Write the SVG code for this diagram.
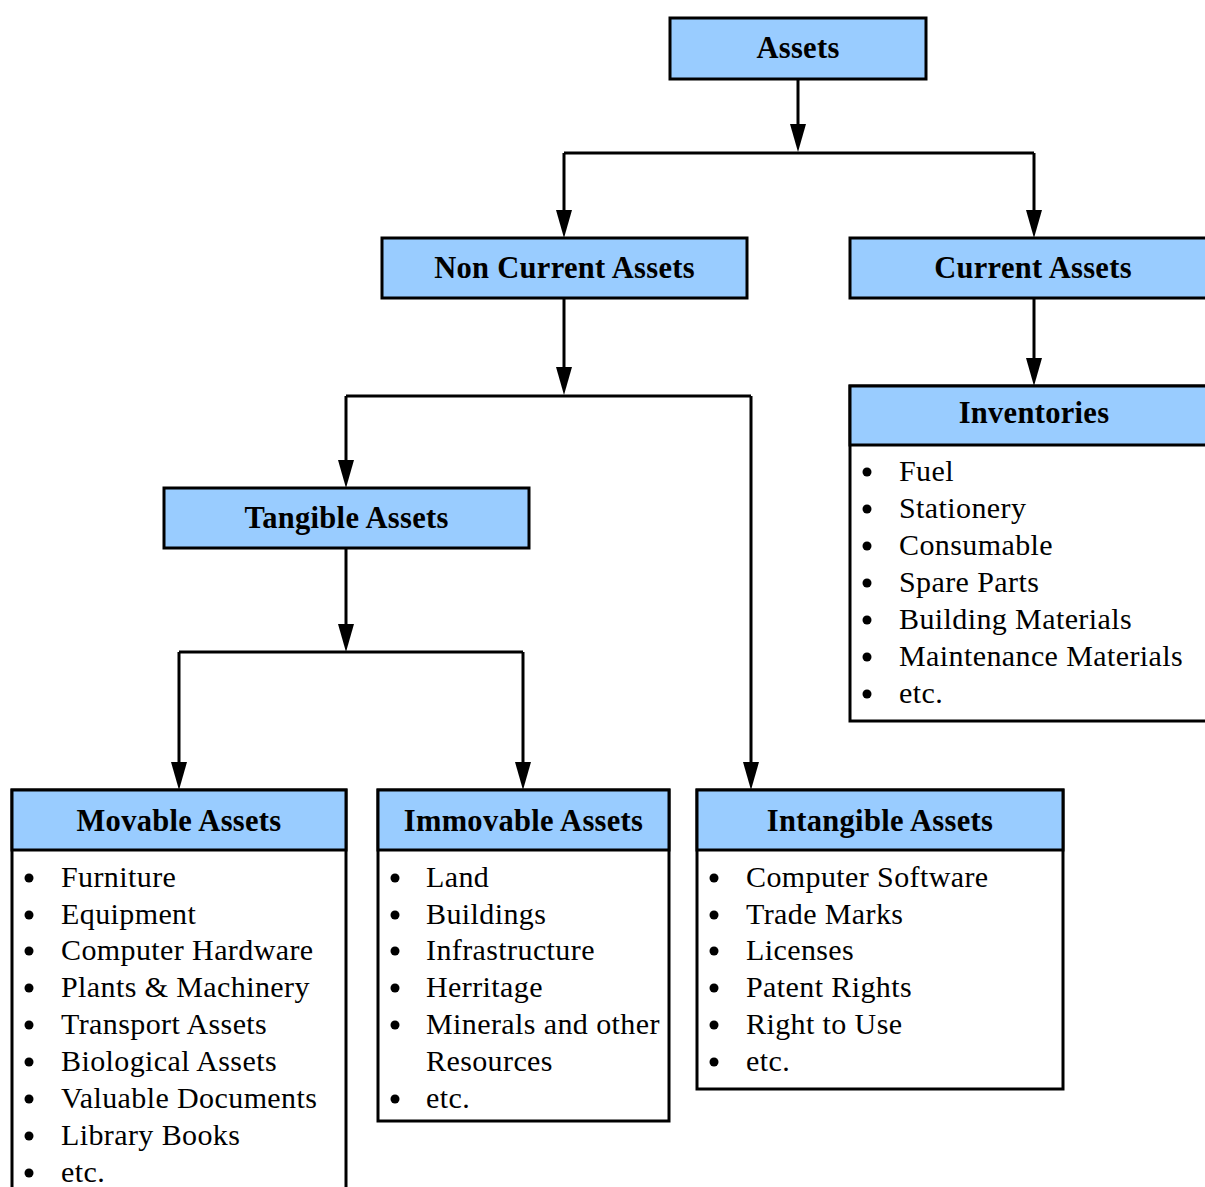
<svg xmlns="http://www.w3.org/2000/svg" width="1205" height="1187" viewBox="0 0 1205 1187">
<style>
.hd{fill:#99CCFF;stroke:#000;stroke-width:3}
.bd{fill:#fff;stroke:#000;stroke-width:3}
.ht{font-family:"Liberation Serif","Times New Roman",serif;font-weight:bold;font-size:30.5px;letter-spacing:0.3px;text-anchor:middle;fill:#000}
.it{font-family:"Liberation Serif","Times New Roman",serif;font-size:30px;letter-spacing:0.4px;fill:#000}
.bl{fill:#000}
.cn{fill:none;stroke:#000;stroke-width:3}
.ah{fill:#000}
</style>
<rect width="1205" height="1187" fill="#fff"/>
<g id="connectors">
<path class="cn" d="M798,79 V124"/>
<path class="ah" d="M790,124 H806 L798,152 Z"/>
<path class="cn" d="M564,153 H1034"/>
<path class="cn" d="M564,153 V210"/>
<path class="ah" d="M556,210 H572 L564,238 Z"/>
<path class="cn" d="M1034,153 V210"/>
<path class="ah" d="M1026,210 H1042 L1034,238 Z"/>
<path class="cn" d="M1034,298 V358"/>
<path class="ah" d="M1026,358 H1042 L1034,386 Z"/>
<path class="cn" d="M564,298 V367"/>
<path class="ah" d="M556,367 H572 L564,395 Z"/>
<path class="cn" d="M346,396 H751"/>
<path class="cn" d="M346,396 V460"/>
<path class="ah" d="M338,460 H354 L346,488 Z"/>
<path class="cn" d="M751,396 V762"/>
<path class="ah" d="M743,762 H759 L751,790 Z"/>
<path class="cn" d="M346,548 V624"/>
<path class="ah" d="M338,624 H354 L346,652 Z"/>
<path class="cn" d="M179,652 H523"/>
<path class="cn" d="M179,652 V762"/>
<path class="ah" d="M171,762 H187 L179,790 Z"/>
<path class="cn" d="M523,652 V762"/>
<path class="ah" d="M515,762 H531 L523,790 Z"/>
</g>
<g id="assets">
<rect class="hd" x="670" y="18" width="256" height="61"/>
<text class="ht" x="798" y="58">Assets</text>
</g>
<g id="non-current-assets">
<rect class="hd" x="382" y="238" width="365" height="60"/>
<text class="ht" x="564.5" y="278">Non Current Assets</text>
</g>
<g id="current-assets">
<rect class="hd" x="850" y="238" width="366" height="60"/>
<text class="ht" x="1033" y="278">Current Assets</text>
</g>
<g id="inventories">
<rect class="bd" x="850" y="386" width="366" height="335"/>
<rect class="hd" x="850" y="386" width="366" height="59"/>
<text class="ht" x="1034" y="423">Inventories</text>
<g class="bl">
<circle cx="867" cy="472" r="4.5"/><circle cx="867" cy="509" r="4.5"/><circle cx="867" cy="546" r="4.5"/><circle cx="867" cy="583" r="4.5"/><circle cx="867" cy="620" r="4.5"/><circle cx="867" cy="657" r="4.5"/><circle cx="867" cy="694" r="4.5"/>
</g>
<text class="it" x="899" y="481">Fuel</text>
<text class="it" x="899" y="518">Stationery</text>
<text class="it" x="899" y="555">Consumable</text>
<text class="it" x="899" y="592">Spare Parts</text>
<text class="it" x="899" y="629">Building Materials</text>
<text class="it" x="899" y="666">Maintenance Materials</text>
<text class="it" x="899" y="703">etc.</text>
</g>
<g id="tangible-assets">
<rect class="hd" x="164" y="488" width="365" height="60"/>
<text class="ht" x="346.5" y="528">Tangible Assets</text>
</g>
<g id="movable-assets">
<rect class="bd" x="12" y="790" width="334" height="420"/>
<rect class="hd" x="12" y="790" width="334" height="60"/>
<text class="ht" x="179" y="831">Movable Assets</text>
<g class="bl">
<circle cx="29" cy="878" r="4.5"/><circle cx="29" cy="915" r="4.5"/><circle cx="29" cy="951" r="4.5"/><circle cx="29" cy="988" r="4.5"/><circle cx="29" cy="1025" r="4.5"/><circle cx="29" cy="1062" r="4.5"/><circle cx="29" cy="1099" r="4.5"/><circle cx="29" cy="1136" r="4.5"/><circle cx="29" cy="1173" r="4.5"/>
</g>
<text class="it" x="61" y="887">Furniture</text>
<text class="it" x="61" y="924">Equipment</text>
<text class="it" x="61" y="960">Computer Hardware</text>
<text class="it" x="61" y="997">Plants &amp; Machinery</text>
<text class="it" x="61" y="1034">Transport Assets</text>
<text class="it" x="61" y="1071">Biological Assets</text>
<text class="it" x="61" y="1108">Valuable Documents</text>
<text class="it" x="61" y="1145">Library Books</text>
<text class="it" x="61" y="1182">etc.</text>
</g>
<g id="immovable-assets">
<rect class="bd" x="378" y="790" width="291" height="331"/>
<rect class="hd" x="378" y="790" width="291" height="60"/>
<text class="ht" x="523.5" y="831">Immovable Assets</text>
<g class="bl">
<circle cx="395" cy="878" r="4.5"/><circle cx="395" cy="915" r="4.5"/><circle cx="395" cy="951" r="4.5"/><circle cx="395" cy="988" r="4.5"/><circle cx="395" cy="1025" r="4.5"/><circle cx="395" cy="1099" r="4.5"/>
</g>
<text class="it" x="426" y="887">Land</text>
<text class="it" x="426" y="924">Buildings</text>
<text class="it" x="426" y="960">Infrastructure</text>
<text class="it" x="426" y="997">Herritage</text>
<text class="it" x="426" y="1034">Minerals and other</text>
<text class="it" x="426" y="1071">Resources</text>
<text class="it" x="426" y="1108">etc.</text>
</g>
<g id="intangible-assets">
<rect class="bd" x="697" y="790" width="366" height="299"/>
<rect class="hd" x="697" y="790" width="366" height="60"/>
<text class="ht" x="880" y="831">Intangible Assets</text>
<g class="bl">
<circle cx="714" cy="878" r="4.5"/><circle cx="714" cy="915" r="4.5"/><circle cx="714" cy="951" r="4.5"/><circle cx="714" cy="988" r="4.5"/><circle cx="714" cy="1025" r="4.5"/><circle cx="714" cy="1062" r="4.5"/>
</g>
<text class="it" x="746" y="887">Computer Software</text>
<text class="it" x="746" y="924">Trade Marks</text>
<text class="it" x="746" y="960">Licenses</text>
<text class="it" x="746" y="997">Patent Rights</text>
<text class="it" x="746" y="1034">Right to Use</text>
<text class="it" x="746" y="1071">etc.</text>
</g>
</svg>
